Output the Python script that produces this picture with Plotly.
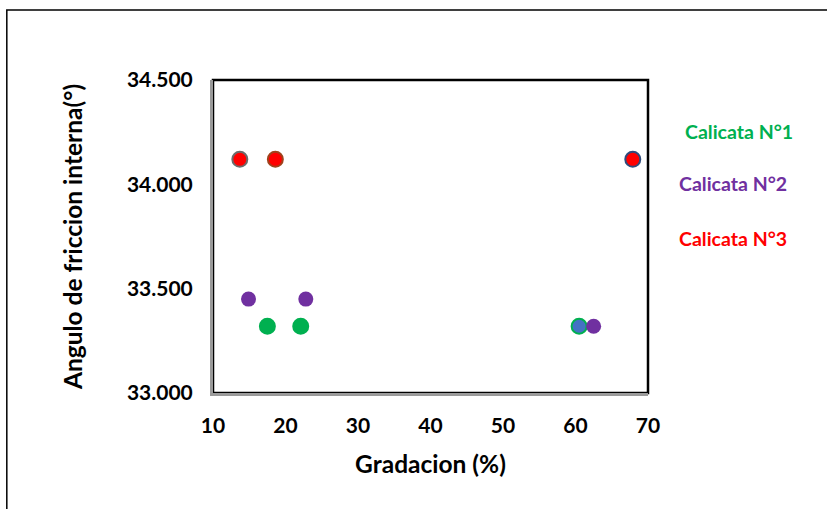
import plotly.graph_objects as go

# Gradation (%) vs internal friction angle (deg) for three test pits
calicata1_x = [17.5, 22.1, 60.5]
calicata1_y = [33.32, 33.32, 33.32]
calicata2_x = [14.9, 22.8, 62.5]
calicata2_y = [33.45, 33.45, 33.32]
calicata3_x = [13.7, 18.6, 67.9]
calicata3_y = [34.12, 34.12, 34.12]

series_names = ["Calicata N°1", "Calicata N°2", "Calicata N°3"]
x_ticks = [10, 20, 30, 40, 50, 60, 70]
y_ticks = [33.0, 33.5, 34.0, 34.5]
y_tick_text = ["33.000", "33.500", "34.000", "34.500"]

GREEN = "#00B050"
PURPLE = "#7030A0"
RED = "#FF0000"
BLUE = "#4472C4"

FONT = "Lato, 'Open Sans', sans-serif"

fig = go.Figure()

fig.add_trace(go.Scatter(
    x=calicata1_x, y=calicata1_y, mode="markers", name=series_names[0],
    marker=dict(size=15, color=[GREEN, GREEN, BLUE],
                line=dict(width=2, color=[GREEN, GREEN, GREEN])),
))
fig.add_trace(go.Scatter(
    x=calicata2_x, y=calicata2_y, mode="markers", name=series_names[1],
    marker=dict(size=15, color=PURPLE, line=dict(width=0)),
))
fig.add_trace(go.Scatter(
    x=calicata3_x, y=calicata3_y, mode="markers", name=series_names[2],
    marker=dict(size=15, color=RED,
                line=dict(width=2, color=["#6b6b6b", "#a0421c", "#2f4b7c"])),
))

# Legend-style labels at the right
label_y = [0.837, 0.668, 0.495]
label_x = [1.080, 1.067, 1.067]
for name, col, yy, xx in zip(series_names, [GREEN, PURPLE, RED], label_y, label_x):
    fig.add_annotation(
        x=xx, y=yy, xref="paper", yref="paper", text=name, showarrow=False,
        xanchor="left", yanchor="middle",
        font=dict(family=FONT, size=19.5, color=col, weight="bold"),
    )

shapes = [
    # outer chart frame
    dict(type="rect", xref="paper", yref="paper", x0=-0.474, x1=1.43,
         y0=-0.40, y1=1.2236, line=dict(color="#000000", width=1.5),
         fillcolor="rgba(0,0,0,0)", layer="below"),
    # plot area frame (top/right in black)
    dict(type="rect", xref="paper", yref="paper", x0=0, x1=1, y0=0, y1=1,
         line=dict(color="#000000", width=2.5), fillcolor="rgba(0,0,0,0)",
         layer="below"),
]

fig.update_layout(
    width=827, height=509,
    margin=dict(l=213, r=179, t=80, b=116),
    paper_bgcolor="white", plot_bgcolor="white",
    showlegend=False,
    shapes=shapes,
    font=dict(family=FONT, color="#000000"),
    xaxis=dict(
        range=[10, 70], tickvals=x_ticks, showgrid=False, zeroline=False,
        showline=True, linecolor="#9a9a9a", linewidth=3, mirror=False,
        ticks="", ticklabelstandoff=12,
        tickfont=dict(family=FONT, size=21, color="#000000", weight="bold"),
        title=dict(text="Gradacion (%)", standoff=20,
                   font=dict(family=FONT, size=24.5, color="#000000", weight="bold")),
    ),
    yaxis=dict(
        range=[33.0, 34.5], tickvals=y_ticks, ticktext=y_tick_text,
        showgrid=False, zeroline=False,
        showline=True, linecolor="#9a9a9a", linewidth=3, mirror=False,
        ticks="", ticklabelstandoff=13,
        tickfont=dict(family=FONT, size=21, color="#000000", weight="bold"),
        title=dict(text="Angulo de friccion interna(°)", standoff=38,
                   font=dict(family=FONT, size=24.5, color="#000000", weight="bold")),
    ),
)

fig.write_html("out.html")
